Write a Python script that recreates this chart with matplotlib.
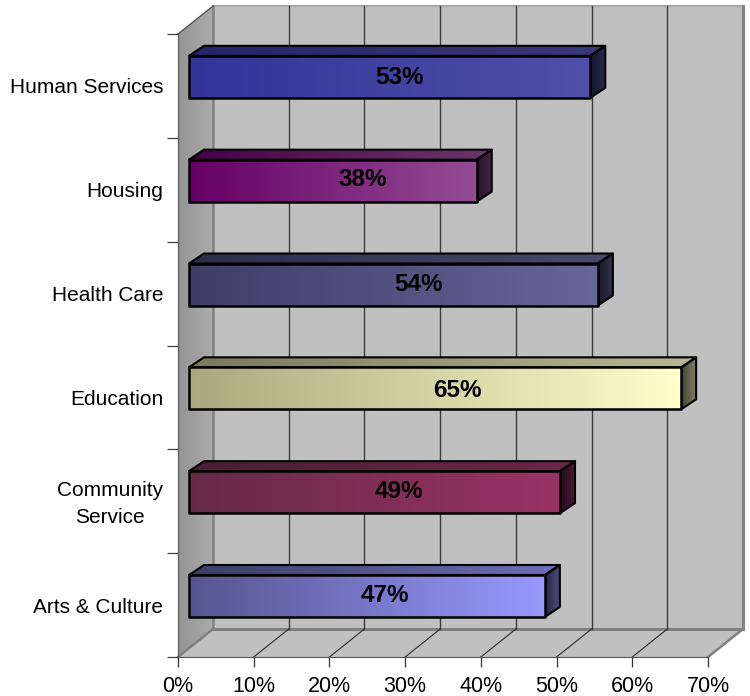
import numpy as np
import matplotlib
matplotlib.use("Agg")
import matplotlib.pyplot as plt
from matplotlib.patches import Polygon
from matplotlib.colors import to_rgb
from matplotlib.transforms import ScaledTranslation

categories = ["Arts & Culture", "Community\nService", "Education", "Health Care", "Housing", "Human Services"]
values = [47, 49, 65, 54, 38, 53]
x_ticks = [0, 10, 20, 30, 40, 50, 60, 70]
colors_left = ["#55558F", "#662A48", "#A9A97F", "#3E3E68", "#660066", "#333399"]
colors_right = ["#9999FF", "#993366", "#FFFFCC", "#666699", "#944C94", "#5050A8"]
label_x_px = [385, 399, 457, 419, 363, 400]
label_y_px = [595, 491, 390, 284, 180, 78]

plt.rcParams["font.family"] = ["Liberation Sans", "DejaVu Sans"]
W, H = 750, 696
PX_X = 530 / 70      # pixels per percent
PX_Y = 623 / 6       # pixels per category
X0, Y0 = 178, 657    # pixel position of the data origin

fig = plt.figure(figsize=(W / 100, H / 100), dpi=100)
ax = fig.add_axes([0, 0, 1, 1])
ax.patch.set_visible(False)

def dx(p):
    return p / PX_X

def dy(p):
    return p / PX_Y

def to_x(px):
    return (px - X0) / PX_X

def to_y(px):
    return (Y0 - px) / PX_Y

def grad(c0, c1, n=256):
    a, b = np.array(to_rgb(c0)), np.array(to_rgb(c1))
    t = np.linspace(0, 1, n)[None, :, None]
    return a[None, None, :] * (1 - t) + b[None, None, :] * t

def gradient_poly(points, c0, c1, z, edge=None, lw=0):
    pts = np.array(points)
    im = ax.imshow(grad(c0, c1), extent=[pts[:, 0].min(), pts[:, 0].max(), pts[:, 1].min(), pts[:, 1].max()],
                   aspect="auto", origin="lower", zorder=z, interpolation="bilinear")
    clip = Polygon(pts, closed=True, transform=ax.transData, fc="none", ec="none")
    im.set_clip_path(clip)
    if edge:
        ax.add_patch(Polygon(pts, closed=True, fc="none", ec=edge, lw=lw, zorder=z + 0.1, joinstyle="round"))

def shade(c, f):
    return tuple(v * f for v in to_rgb(c))

xmax, ymax = 70, 6
ddx, ddy = dx(35), dy(28)

# walls
ax.add_patch(Polygon([(ddx, ddy), (xmax + ddx, ddy), (xmax + ddx, ymax + ddy), (ddx, ymax + ddy)],
                     fc="#C0C0C0", ec="none", zorder=1))
ax.add_patch(Polygon([(0, 0), (xmax, 0), (xmax + ddx, ddy), (ddx, ddy)], fc="#C0C0C0", ec="none", zorder=1))
gradient_poly([(0, 0), (ddx, ddy), (ddx, ymax + ddy), (0, ymax)], "#949494", "#ABABAB", 1.1)

# wall outlines
wall_edge = "#808080"
ax.plot([ddx, xmax + ddx, xmax + ddx], [ymax + ddy] * 2 + [ddy], color="#A8A8A8", lw=1.6, zorder=1.5)
ax.plot([xmax + ddx, xmax + ddx], [ddy, ymax + ddy], color=wall_edge, lw=2.2, zorder=1.5)
ax.plot([ddx, ddx], [ddy, ymax + ddy], color=wall_edge, lw=1.8, zorder=1.5)
ax.plot([ddx, xmax + ddx], [ddy, ddy], color=wall_edge, lw=2.2, zorder=1.5)
ax.plot([0, ddx], [0, ddy], color=wall_edge, lw=1.8, zorder=1.5)
ax.plot([xmax, xmax + ddx], [0, ddy], color=wall_edge, lw=1.8, zorder=1.5)
ax.plot([0, ddx], [ymax, ymax + ddy], color="#555555", lw=1.0, zorder=1.5)

# grid lines on back wall and floor
for t in x_ticks[1:-1]:
    ax.plot([t + ddx, t + ddx], [ddy, ymax + ddy], color="#3C3C3C", lw=1.0, zorder=1.6)
    ax.plot([t, t + ddx], [0, ddy], color="#2A2A2A", lw=0.8, zorder=1.6)

# bars
x_start = dx(11)
bar_h = dy(42)
bar_off = dy(40)
bdx, bdy = dx(15), dy(10)
for i, v in enumerate(values):
    xl, xr = x_start, x_start + v
    yb, yt = i + bar_off, i + bar_off + bar_h
    cl, cr = colors_left[i], colors_right[i]
    # top face
    gradient_poly([(xl, yt), (xr, yt), (xr + bdx, yt + bdy), (xl + bdx, yt + bdy)],
                  shade(cl, 0.72), shade(cr, 0.72), 3, edge="black", lw=1.5)
    # side face
    gradient_poly([(xr, yb), (xr + bdx, yb + bdy), (xr + bdx, yt + bdy), (xr, yt)],
                  shade(cr, 0.25), shade(cr, 0.5), 3, edge="black", lw=1.5)
    # front face
    gradient_poly([(xl, yb), (xr, yb), (xr, yt), (xl, yt)], cl, cr, 4, edge="black", lw=1.8)
    ax.text(to_x(label_x_px[i]), to_y(label_y_px[i]), f"{v}%", ha="center", va="center",
            fontsize=17.5, fontweight="bold", color="black", zorder=6)

# axes
ax.set_xlim(-X0 / PX_X, (W - X0) / PX_X)
ax.set_ylim(-(H - Y0) / PX_Y, Y0 / PX_Y)
for s in ("top", "right"):
    ax.spines[s].set_visible(False)
ax.spines["left"].set_position(("data", 0))
ax.spines["bottom"].set_position(("data", 0))
ax.spines["left"].set_bounds(0, 6)
ax.spines["bottom"].set_bounds(0, 70)
ax.spines["left"].set_color("#555555")
ax.spines["bottom"].set_color("#555555")
ax.spines["left"].set_zorder(2)
ax.spines["bottom"].set_zorder(2)

ax.set_xticks(x_ticks)
ax.set_xticklabels([f"{t}%" for t in x_ticks], fontsize=15.5)
ax.tick_params(axis="x", length=7.5, width=0.9, color="#333333", pad=6.5)
ax.set_yticks(range(7))
ax.set_yticklabels([""] * 7)
ax.tick_params(axis="y", which="major", length=8, width=0.9, color="#444444")
ax.set_yticks(np.arange(6) + 0.5, minor=True)
ax.set_yticklabels(categories, minor=True, fontsize=15, ma="center", linespacing=1.5)
ax.tick_params(axis="y", which="minor", length=0, pad=10.5)

# nudge the two-line label up to its place in the reference
for lab in ax.get_yticklabels(minor=True):
    if "\n" in lab.get_text():
        lab.set_transform(lab.get_transform() + ScaledTranslation(0, 3 / 100, fig.dpi_scale_trans))

fig.savefig("out.png", dpi=100, facecolor="white")
